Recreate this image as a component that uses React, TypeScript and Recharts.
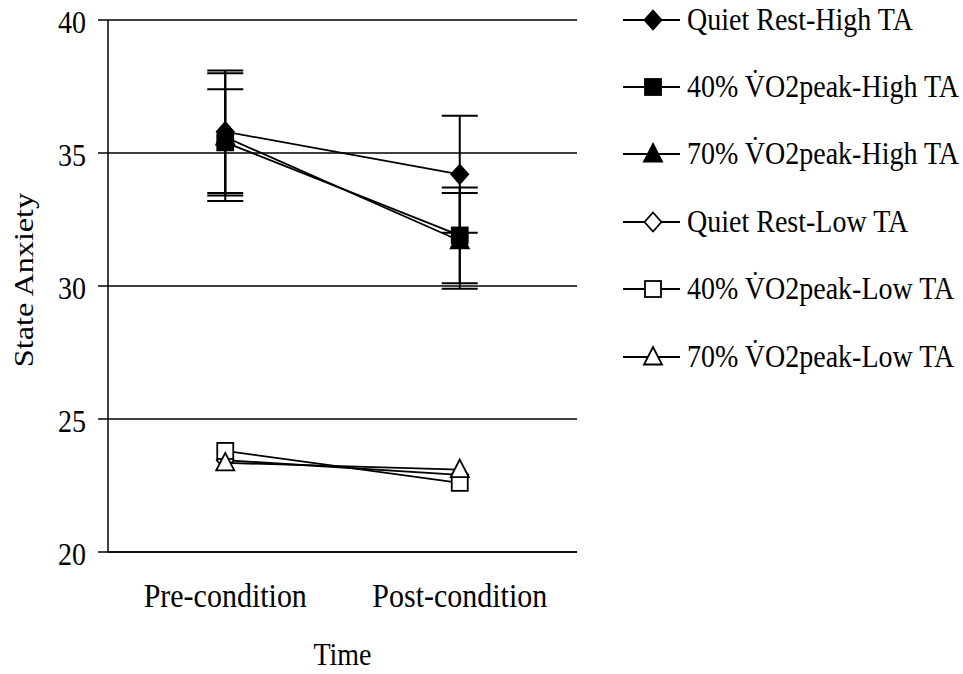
import { CartesianGrid, ErrorBar, Line, LineChart, XAxis, YAxis } from "recharts";

const categories = ["Pre-condition", "Post-condition"];
const qrHigh = [35.8, 34.2];
const qrHighErr = [2.3, 2.2];
const vo40High = [35.4, 31.9];
const vo40HighErr = [2.0, 1.8];
const vo70High = [35.6, 31.7];
const vo70HighErr = [2.4, 1.8];
const qrLow = [23.45, 22.9];
const vo40Low = [23.8, 22.6];
const vo70Low = [23.35, 23.1];
const yTicks = [20, 25, 30, 35, 40];

const data = categories.map((name, i) => ({
  name,
  qrHigh: qrHigh[i],
  qrHighErr: qrHighErr[i],
  vo40High: vo40High[i],
  vo40HighErr: vo40HighErr[i],
  vo70High: vo70High[i],
  vo70HighErr: vo70HighErr[i],
  qrLow: qrLow[i],
  vo40Low: vo40Low[i],
  vo70Low: vo70Low[i],
}));

const FONT = "Liberation Serif";
// the original picture is a bit taller than wide, so text is stretched vertically
const STRETCH = 1.15;

const series = [
  { key: "qrHigh", err: "qrHighErr", name: "Quiet Rest-High TA", shape: "diamond", filled: true },
  { key: "vo40High", err: "vo40HighErr", name: "40% V\u0307O2peak-High TA", shape: "square", filled: true },
  { key: "vo70High", err: "vo70HighErr", name: "70% V\u0307O2peak-High TA", shape: "triangle", filled: true },
  { key: "qrLow", name: "Quiet Rest-Low TA", shape: "diamond", filled: false },
  { key: "vo40Low", name: "40% V\u0307O2peak-Low TA", shape: "square", filled: false },
  { key: "vo70Low", name: "70% V\u0307O2peak-Low TA", shape: "triangle", filled: false },
];

const Marker = ({ cx, cy, shape, filled }) => {
  const fill = filled ? "#000" : "#fff";
  const common = { fill, stroke: "#000", strokeWidth: 1.8 };
  if (shape === "diamond") {
    return <polygon points={`${cx},${cy - 9.5} ${cx + 8.5},${cy} ${cx},${cy + 9.5} ${cx - 8.5},${cy}`} {...common} />;
  }
  if (shape === "square") {
    return <rect x={cx - 8} y={cy - 8} width={16} height={16} {...common} />;
  }
  return <polygon points={`${cx},${cy - 10} ${cx + 9},${cy + 7.5} ${cx - 9},${cy + 7.5}`} {...common} />;
};

const LegendBox = () => (
  <div style={{ position: "absolute", left: 620, top: -14, fontFamily: FONT, fontSize: 28, color: "#000" }}>
    {series.map((s) => (
      <div key={s.key} style={{ display: "flex", alignItems: "center", height: 67.4 }}>
        <svg width={62} height={30} style={{ marginRight: 5 }}>
          <line x1={3} y1={15} x2={60} y2={15} stroke="#000" strokeWidth={1.8} />
          <Marker cx={33} cy={15} shape={s.shape} filled={s.filled} />
        </svg>
        <span style={{ whiteSpace: "nowrap", display: "inline-block", transform: `scaleY(${STRETCH})` }}>{s.name}</span>
      </div>
    ))}
  </div>
);

const XTick = ({ x, y, payload }) => (
  <g transform={`translate(${x}, ${y + 55}) scale(1, ${STRETCH})`}>
    <text x={0} y={0} textAnchor="middle" fontFamily={FONT} fontSize={30} fill="#000">
      {payload.value}
    </text>
  </g>
);

const YTick = ({ x, y, payload }) => (
  <g transform={`translate(${x}, ${y + 13}) scale(1, ${STRETCH})`}>
    <text x={0} y={0} textAnchor="end" fontFamily={FONT} fontSize={28} fill="#000">
      {payload.value}
    </text>
  </g>
);

const YLabel = ({ viewBox }) => {
  const y = viewBox.y + viewBox.height / 2 - 6;
  return (
    <g transform={`translate(24, ${y}) rotate(-90) scale(${STRETCH}, 1)`}>
      <text x={0} y={0} textAnchor="middle" dominantBaseline="central" fontFamily={FONT} fontSize={28} fill="#000">
        State Anxiety
      </text>
    </g>
  );
};

const XLabel = ({ viewBox }) => (
  <g transform={`translate(${viewBox.x + viewBox.width / 2}, ${viewBox.y + 113}) scale(1, ${STRETCH})`}>
    <text x={0} y={0} textAnchor="middle" fontFamily={FONT} fontSize={28} fill="#000">
      Time
    </text>
  </g>
);

export default function App() {
  return (
    <div style={{ position: "absolute", left: 0, top: 0, width: 963, height: 674 }}>
      <LineChart width={963} height={674} data={data} margin={{ top: 20, right: 386, left: 0, bottom: 0 }}>
        <CartesianGrid vertical={false} stroke="#000" strokeWidth={1.3} />
        <XAxis
          dataKey="name"
          scale="band"
          height={122}
          stroke="#000"
          strokeWidth={1.5}
          tickLine={false}
          tickSize={0}
          tickMargin={0}
          tick={<XTick />}
          label={<XLabel />}
        />
        <YAxis
          width={108}
          domain={[20, 40]}
          ticks={yTicks}
          stroke="#000"
          strokeWidth={1.5}
          tickSize={10}
          tickMargin={12}
          tick={<YTick />}
          label={<YLabel />}
        />
        {series.map((s) => (
          <Line
            key={s.key}
            dataKey={s.key}
            name={s.name}
            stroke="#000"
            strokeWidth={1.8}
            isAnimationActive={false}
            dot={(p) => <Marker key={`${s.key}-${p.index}`} cx={p.cx} cy={p.cy} shape={s.shape} filled={s.filled} />}
            activeDot={false}
          >
            {s.err ? <ErrorBar dataKey={s.err} width={18} stroke="#000" strokeWidth={2} direction="y" /> : null}
          </Line>
        ))}
      </LineChart>
      <LegendBox />
    </div>
  );
}
